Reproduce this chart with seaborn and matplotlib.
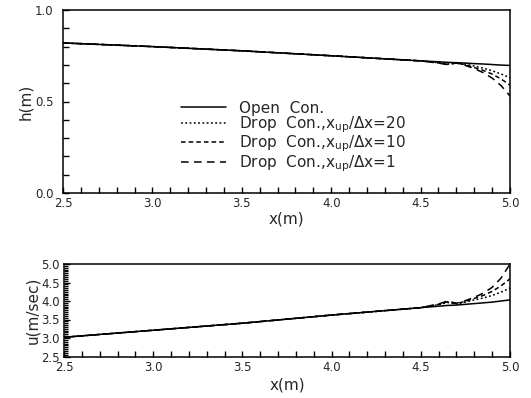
import numpy as np
import pandas as pd
import matplotlib
matplotlib.use("Agg")
import matplotlib.pyplot as plt
from matplotlib.ticker import MultipleLocator, FormatStrFormatter
import seaborn as sns

# Streamwise positions (m)
x_pos = [2.5, 3.0, 3.5, 4.0, 4.5, 4.6, 4.65, 4.7, 4.75, 4.8, 4.85, 4.9, 4.95, 5.0]

# Water depth h (m)
h_open = [0.820, 0.800, 0.777, 0.750, 0.722, 0.717, 0.714, 0.712, 0.710, 0.707, 0.705, 0.702, 0.699, 0.697]
h_drop20 = [0.820, 0.800, 0.777, 0.750, 0.722, 0.712, 0.705, 0.712, 0.704, 0.694, 0.682, 0.668, 0.650, 0.630]
h_drop10 = [0.820, 0.800, 0.777, 0.750, 0.722, 0.711, 0.703, 0.711, 0.700, 0.686, 0.670, 0.650, 0.623, 0.590]
h_drop1 = [0.820, 0.800, 0.777, 0.750, 0.722, 0.710, 0.701, 0.710, 0.697, 0.680, 0.658, 0.628, 0.587, 0.530]

# Velocity u (m/sec)
u_open = [3.02, 3.21, 3.40, 3.62, 3.82, 3.86, 3.88, 3.89, 3.91, 3.93, 3.95, 3.97, 4.00, 4.03]
u_drop20 = [3.02, 3.21, 3.40, 3.62, 3.82, 3.90, 3.96, 3.92, 3.97, 4.03, 4.08, 4.15, 4.24, 4.35]
u_drop10 = [3.02, 3.21, 3.40, 3.62, 3.82, 3.91, 3.98, 3.93, 3.99, 4.07, 4.15, 4.26, 4.41, 4.60]
u_drop1 = [3.02, 3.21, 3.40, 3.62, 3.82, 3.92, 4.00, 3.94, 4.01, 4.10, 4.21, 4.37, 4.62, 5.00]

labels = [
    "Open  Con.",
    "Drop  Con.,x$_{\\mathregular{up}}$/$\\Delta$x=20",
    "Drop  Con.,x$_{\\mathregular{up}}$/$\\Delta$x=10",
    "Drop  Con.,x$_{\\mathregular{up}}$/$\\Delta$x=1",
]
styles = ["-", (0, (1.2, 1.6)), (0, (3, 2)), (0, (5, 3.5))]

sns.set_style("ticks")
plt.rcParams["font.family"] = ["DejaVu Sans"]
plt.rcParams["mathtext.fontset"] = "dejavusans"

fig = plt.figure(figsize=(5.31, 3.98), dpi=100)
ax1 = fig.add_axes([63 / 531, 1 - 193 / 398, 447 / 531, 183 / 398])
ax2 = fig.add_axes([64 / 531, 1 - 356.5 / 398, 446 / 531, 92.5 / 398])

for vals, lab, ls in zip([h_open, h_drop20, h_drop10, h_drop1], labels, styles):
    sns.lineplot(x=x_pos, y=vals, ax=ax1, color="black", lw=1.1, linestyle=ls, label=lab)
for vals, ls in zip([u_open, u_drop20, u_drop10, u_drop1], styles):
    sns.lineplot(x=x_pos, y=vals, ax=ax2, color="black", lw=1.1, linestyle=ls, legend=False)

for ax in (ax1, ax2):
    ax.set_xlim(2.5, 5.0)
    ax.xaxis.set_major_locator(MultipleLocator(0.5))
    ax.xaxis.set_minor_locator(MultipleLocator(0.1))
    ax.xaxis.set_major_formatter(FormatStrFormatter("%.1f"))
    ax.tick_params(which="both", direction="in", top=False, right=False,
                   labelsize=8.5, width=1, color="black")
    ax.tick_params(which="both", length=4)
    ax.tick_params(axis="x", pad=3)
    for sp in ax.spines.values():
        sp.set_linewidth(1.1)
        sp.set_color("black")

ax1.set_ylim(0.0, 1.0)
ax1.yaxis.set_major_locator(MultipleLocator(0.5))
ax1.yaxis.set_minor_locator(MultipleLocator(0.1))
ax1.yaxis.set_major_formatter(FormatStrFormatter("%.1f"))
ax1.tick_params(axis="y", pad=7)
ax1.set_ylabel("h(m)", fontsize=11, labelpad=1)
ax1.set_xlabel("x(m)", fontsize=11, labelpad=1)

ax2.set_ylim(2.5, 5.0)
ax2.yaxis.set_major_locator(MultipleLocator(0.5))
ax2.yaxis.set_minor_locator(MultipleLocator(0.05))
ax2.yaxis.set_major_formatter(FormatStrFormatter("%.1f"))
ax2.tick_params(axis="y", which="minor", length=3)
ax2.tick_params(axis="y", pad=3)
ax2.set_ylabel("u(m/sec)", fontsize=11, labelpad=1)
ax2.set_xlabel("x(m)", fontsize=11, labelpad=3)

ax1.legend(loc="upper left", bbox_to_anchor=(173 / 531, 1 - 93 / 398),
           bbox_transform=fig.transFigure, frameon=False, fontsize=11,
           handlelength=3.0, handletextpad=0.8, labelspacing=-0.08, borderpad=0)

fig.savefig("out.png", dpi=100)
